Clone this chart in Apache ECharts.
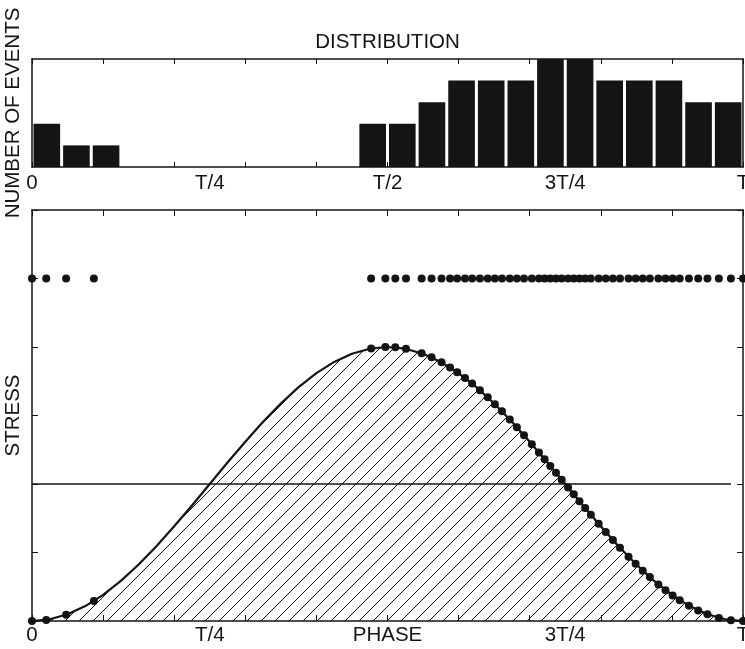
<!DOCTYPE html>
<html>
<head>
<meta charset="utf-8">
<script src="https://cdn.jsdelivr.net/npm/echarts@6/dist/echarts.min.js"></script>
<style>
  html, body { margin: 0; padding: 0; background: #fff; overflow: hidden; }
  #chart { width: 745px; height: 649px; }
</style>
</head>
<body>
<div id="chart"></div>
<script>
// ---- histogram of events per phase bin (24 bins over one period) ----
const binWidth = 1 / 24;
const histCounts = [2, 1, 1, 0, 0, 0, 0, 0, 0, 0, 0, 2, 2, 3, 4, 4, 4, 5, 5, 4, 4, 4, 3, 3];
const histMax = 5;

// ---- axis ticks and labels (phase as fraction of the period T) ----
const tickPhases = [0, 0.1, 0.2, 0.3, 0.4, 0.5, 0.6, 0.7, 0.8, 0.9, 1];
const labelPhases = [0, 0.25, 0.5, 0.75, 1];
const topLabels = ['0', 'T/4', 'T/2', '3T/4', 'T'];
const bottomLabels = ['0', 'T/4', 'PHASE', '3T/4', 'T'];
const stressTicks = [0, 1, 2, 3, 4, 5, 6];

// ---- stress cycle over one period ----
const curvePhase = [0, 0.025, 0.05, 0.075, 0.1, 0.125, 0.15, 0.175, 0.2, 0.225, 0.25,
  0.275, 0.3, 0.325, 0.35, 0.375, 0.4, 0.425, 0.45, 0.475, 0.5,
  0.525, 0.55, 0.575, 0.6, 0.625, 0.65, 0.675, 0.7, 0.725, 0.75,
  0.775, 0.8, 0.825, 0.85, 0.875, 0.9, 0.925, 0.95, 0.975, 1];
const curveStress = [0, 0.025, 0.098, 0.218, 0.382, 0.586, 0.824, 1.092, 1.382, 1.687, 2.0,
  2.313, 2.618, 2.908, 3.176, 3.414, 3.618, 3.782, 3.902, 3.975, 4.0,
  3.975, 3.902, 3.782, 3.618, 3.414, 3.176, 2.908, 2.618, 2.313, 2.0,
  1.687, 1.382, 1.092, 0.824, 0.586, 0.382, 0.218, 0.098, 0.025, 0];

// ---- recorded events: phase of occurrence and stress at that moment ----
const eventPhase = [0, 0.02, 0.048, 0.087,
  0.477, 0.497, 0.511, 0.526, 0.548, 0.562, 0.576,
  0.588, 0.598, 0.609, 0.619, 0.630, 0.641, 0.651, 0.661,
  0.672, 0.682, 0.692, 0.703, 0.713, 0.721, 0.729, 0.737, 0.745,
  0.754, 0.762, 0.770, 0.778, 0.786, 0.797, 0.807, 0.817, 0.827,
  0.839, 0.849, 0.859, 0.869, 0.881, 0.891, 0.901, 0.911,
  0.924, 0.937, 0.950, 0.966, 0.983, 1.0];
const eventStress = [0, 0.016, 0.090, 0.291,
  3.979, 4.0, 3.995, 3.973, 3.910, 3.850, 3.776,
  3.702, 3.633, 3.549, 3.466, 3.369, 3.265, 3.166, 3.061,
  2.942, 2.829, 2.713, 2.582, 2.461, 2.362, 2.263, 2.163, 2.063,
  1.950, 1.849, 1.749, 1.650, 1.551, 1.418, 1.299, 1.183, 1.070,
  0.939, 0.834, 0.735, 0.641, 0.534, 0.450, 0.374, 0.304,
  0.224, 0.155, 0.098, 0.045, 0.011, 0];
const eventRowLevel = 5;

// ---- threshold stress level ----
const thresholdPhase = [0, 0.983];
const thresholdStress = [2, 2];

const FONT = '"Liberation Sans", Arial, Helvetica, sans-serif';
const INK = '#141414';

// diagonal hatch tile for the area under the stress curve
function hatchTile() {
  const s = 14;
  const c = document.createElement('canvas');
  c.width = s; c.height = s;
  const g = c.getContext('2d');
  g.strokeStyle = '#111';
  g.lineWidth = 1;
  g.beginPath();
  g.moveTo(0, s); g.lineTo(s, 0);
  g.moveTo(-2, 2); g.lineTo(2, -2);
  g.moveTo(s - 2, s + 2); g.lineTo(s + 2, s - 2);
  g.stroke();
  return c;
}

const boxLine = { show: true, onZero: false, lineStyle: { color: INK, width: 1.5 } };
const noSplit = { show: false };

function labelFor(labels) {
  return v => {
    const i = labelPhases.indexOf(v);
    return i >= 0 ? labels[i] : '';
  };
}

const chart = echarts.init(document.getElementById('chart'), null, { renderer: 'canvas' });

chart.setOption({
  animation: false,
  backgroundColor: '#fff',
  textStyle: { fontFamily: FONT },
  graphic: [{
    type: 'text',
    x: 387.5, y: 42,
    style: {
      text: 'DISTRIBUTION', font: '20.5px ' + FONT, fill: INK,
      textAlign: 'center', textVerticalAlign: 'middle'
    }
  }],
  grid: [
    { left: 32, right: 2, top: 59, height: 108, containLabel: false, outerBoundsMode: 'none' },
    { left: 32, right: 2, top: 210, height: 411, containLabel: false, outerBoundsMode: 'none' }
  ],
  xAxis: [
    { // histogram, bottom edge with labels
      type: 'value', gridIndex: 0, min: 0, max: 1, position: 'bottom',
      axisLine: boxLine, splitLine: noSplit,
      axisTick: { show: true, inside: true, length: 5, customValues: tickPhases, lineStyle: { color: INK, width: 1 } },
      axisLabel: { show: true, customValues: labelPhases, formatter: labelFor(topLabels), margin: 6,
        fontSize: 20.5, fontFamily: FONT, color: INK, showMinLabel: true, showMaxLabel: true }
    },
    { // histogram, top edge
      type: 'value', gridIndex: 0, min: 0, max: 1, position: 'top',
      axisLine: boxLine, splitLine: noSplit,
      axisTick: { show: true, inside: true, length: 5, customValues: tickPhases, lineStyle: { color: INK, width: 1 } },
      axisLabel: { show: false }
    },
    { // stress panel, bottom edge with labels
      type: 'value', gridIndex: 1, min: 0, max: 1, position: 'bottom',
      axisLine: boxLine, splitLine: noSplit,
      axisTick: { show: true, inside: true, length: 6, customValues: tickPhases, lineStyle: { color: INK, width: 1 } },
      axisLabel: { show: true, customValues: labelPhases, formatter: labelFor(bottomLabels), margin: 4,
        fontSize: 20.5, fontFamily: FONT, color: INK, showMinLabel: true, showMaxLabel: true }
    },
    { // stress panel, top edge
      type: 'value', gridIndex: 1, min: 0, max: 1, position: 'top',
      axisLine: boxLine, splitLine: noSplit,
      axisTick: { show: true, inside: true, length: 6, customValues: tickPhases, lineStyle: { color: INK, width: 1 } },
      axisLabel: { show: false }
    }
  ],
  yAxis: [
    {
      type: 'value', gridIndex: 0, min: 0, max: histMax, position: 'left',
      axisLine: boxLine, splitLine: noSplit, axisTick: { show: false }, axisLabel: { show: false },
      name: 'NUMBER OF EVENTS', nameLocation: 'middle', nameGap: 8,
      nameTextStyle: { fontSize: 20.5, fontFamily: FONT, color: INK }
    },
    {
      type: 'value', gridIndex: 0, min: 0, max: histMax, position: 'right',
      axisLine: boxLine, splitLine: noSplit, axisTick: { show: false }, axisLabel: { show: false }
    },
    {
      type: 'value', gridIndex: 1, min: 0, max: 6, interval: 1, position: 'left',
      axisLine: boxLine, splitLine: noSplit,
      axisTick: { show: true, inside: true, length: 6, customValues: stressTicks, lineStyle: { color: INK, width: 1 } },
      axisLabel: { show: false },
      name: 'STRESS', nameLocation: 'middle', nameGap: 8,
      nameTextStyle: { fontSize: 20.5, fontFamily: FONT, color: INK }
    },
    {
      type: 'value', gridIndex: 1, min: 0, max: 6, interval: 1, position: 'right',
      axisLine: boxLine, splitLine: noSplit,
      axisTick: { show: true, inside: true, length: 6, customValues: stressTicks, lineStyle: { color: INK, width: 1 } },
      axisLabel: { show: false }
    }
  ],
  series: [
    {
      name: 'histogram', type: 'custom', xAxisIndex: 0, yAxisIndex: 0,
      data: histCounts.map((n, i) => [i * binWidth, (i + 1) * binWidth, n]),
      encode: { x: [0, 1], y: 2 },
      renderItem(params, api) {
        const n = api.value(2);
        if (!n) return null;
        const p0 = api.coord([api.value(0), n]);
        const p1 = api.coord([api.value(1), 0]);
        return {
          type: 'rect',
          shape: { x: p0[0] + 1.5, y: p0[1], width: p1[0] - p0[0] - 3, height: p1[1] - p0[1] },
          style: { fill: INK }
        };
      },
      z: 1
    },
    {
      name: 'stress', type: 'line', xAxisIndex: 2, yAxisIndex: 2,
      data: curvePhase.map((p, i) => [p, curveStress[i]]),
      showSymbol: false, smooth: false,
      lineStyle: { color: INK, width: 2.2 },
      areaStyle: { color: { image: hatchTile(), repeat: 'repeat' }, opacity: 1, origin: 'start' },
      z: 2
    },
    {
      name: 'threshold', type: 'line', xAxisIndex: 2, yAxisIndex: 2,
      data: thresholdPhase.map((p, i) => [p, thresholdStress[i]]),
      showSymbol: false, lineStyle: { color: INK, width: 1.6 }, z: 3
    },
    {
      name: 'events on cycle', type: 'scatter', xAxisIndex: 2, yAxisIndex: 2,
      data: eventPhase.map((p, i) => [p, eventStress[i]]),
      symbol: 'circle', symbolSize: 8, itemStyle: { color: INK, opacity: 1 }, clip: false, z: 4
    },
    {
      name: 'event times', type: 'scatter', xAxisIndex: 2, yAxisIndex: 2,
      data: eventPhase.map(p => [p, eventRowLevel]),
      symbol: 'circle', symbolSize: 8, itemStyle: { color: INK, opacity: 1 }, clip: false, z: 4
    }
  ]
});
</script>
</body>
</html>
